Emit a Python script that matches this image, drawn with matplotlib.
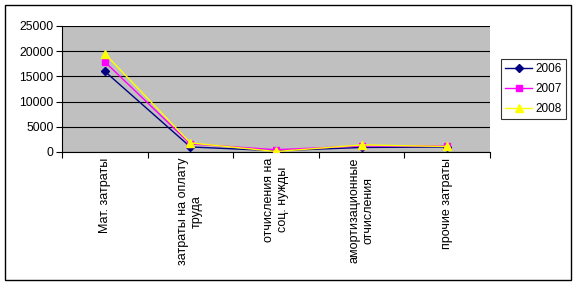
import matplotlib
matplotlib.use("Agg")
import matplotlib.pyplot as plt
import numpy as np
from matplotlib.patches import Rectangle

plt.rcParams['font.family'] = ['Liberation Sans', 'DejaVu Sans']

categories = ["Мат. затраты", "затраты на оплату\nтруда", "отчисления на\nсоц. нужды",
              "амортизационные\nотчисления", "прочие затраты"]
years = ["2006", "2007", "2008"]
v2006 = [16000, 1000, 250, 900, 1000]
v2007 = [17900, 1600, 450, 1200, 1200]
v2008 = [19500, 1800, 100, 1400, 1100]
yticks = [0, 5000, 10000, 15000, 20000, 25000]

W, H = 577, 285
fig = plt.figure(figsize=(W / 100, H / 100), dpi=100)
ax = fig.add_axes([62 / W, 1 - 152 / H, (490 - 62) / W, (152 - 26) / H])
ax.set_facecolor('#C0C0C0')

x = np.arange(len(categories)) + 0.5
styles = [
    dict(color='#000080', marker='D', markersize=4.2),
    dict(color='#FF00FF', marker='s', markersize=4.8),
    dict(color='#FFFF00', marker='^', markersize=5.8),
]
for vals, lab, st in zip([v2006, v2007, v2008], years, styles):
    ax.plot(x, vals, label=lab, linewidth=1, color=st['color'], marker=st['marker'],
            markersize=st['markersize'], markerfacecolor=st['color'],
            markeredgecolor=st['color'], zorder=3)

ax.set_xlim(0, len(categories))
ax.set_ylim(0, 25000)
ax.set_yticks(yticks)
ax.set_yticklabels([str(t) for t in yticks], fontsize=8.8)
ax.set_xticks(np.arange(len(categories) + 1))
ax.set_xticklabels([])
ax.set_xticks(x, minor=True)
ax.set_xticklabels(categories, minor=True, rotation=90, fontsize=9,
                   ha='center', va='top', multialignment='center')
ax.tick_params(axis='x', which='minor', length=0, pad=4)
ax.tick_params(axis='x', which='major', length=4, direction='out', width=0.8)
ax.tick_params(axis='y', length=4, direction='out', width=0.8, pad=2)
ax.yaxis.grid(True, color='black', linewidth=0.8)
ax.set_axisbelow(True)
for s in ['top', 'right']:
    ax.spines[s].set_visible(False)
for s in ['left', 'bottom']:
    ax.spines[s].set_color('black')
    ax.spines[s].set_linewidth(0.8)

leg = fig.legend(loc='upper left', bbox_to_anchor=(501 / W, 1 - 59 / H),
                 bbox_transform=fig.transFigure, fontsize=8.5, frameon=True,
                 fancybox=False, edgecolor='black', borderpad=0.35,
                 handlelength=2.3, labelspacing=0.68, handletextpad=0.25,
                 borderaxespad=0, markerscale=1.0)
leg.get_frame().set_linewidth(0.8)

fig.patches.append(Rectangle((5 / W, 1 - 280 / H), (571 - 5) / W, (280 - 5) / H,
                             transform=fig.transFigure, fill=False,
                             edgecolor='black', linewidth=1))

fig.savefig('out.png', dpi=100)
